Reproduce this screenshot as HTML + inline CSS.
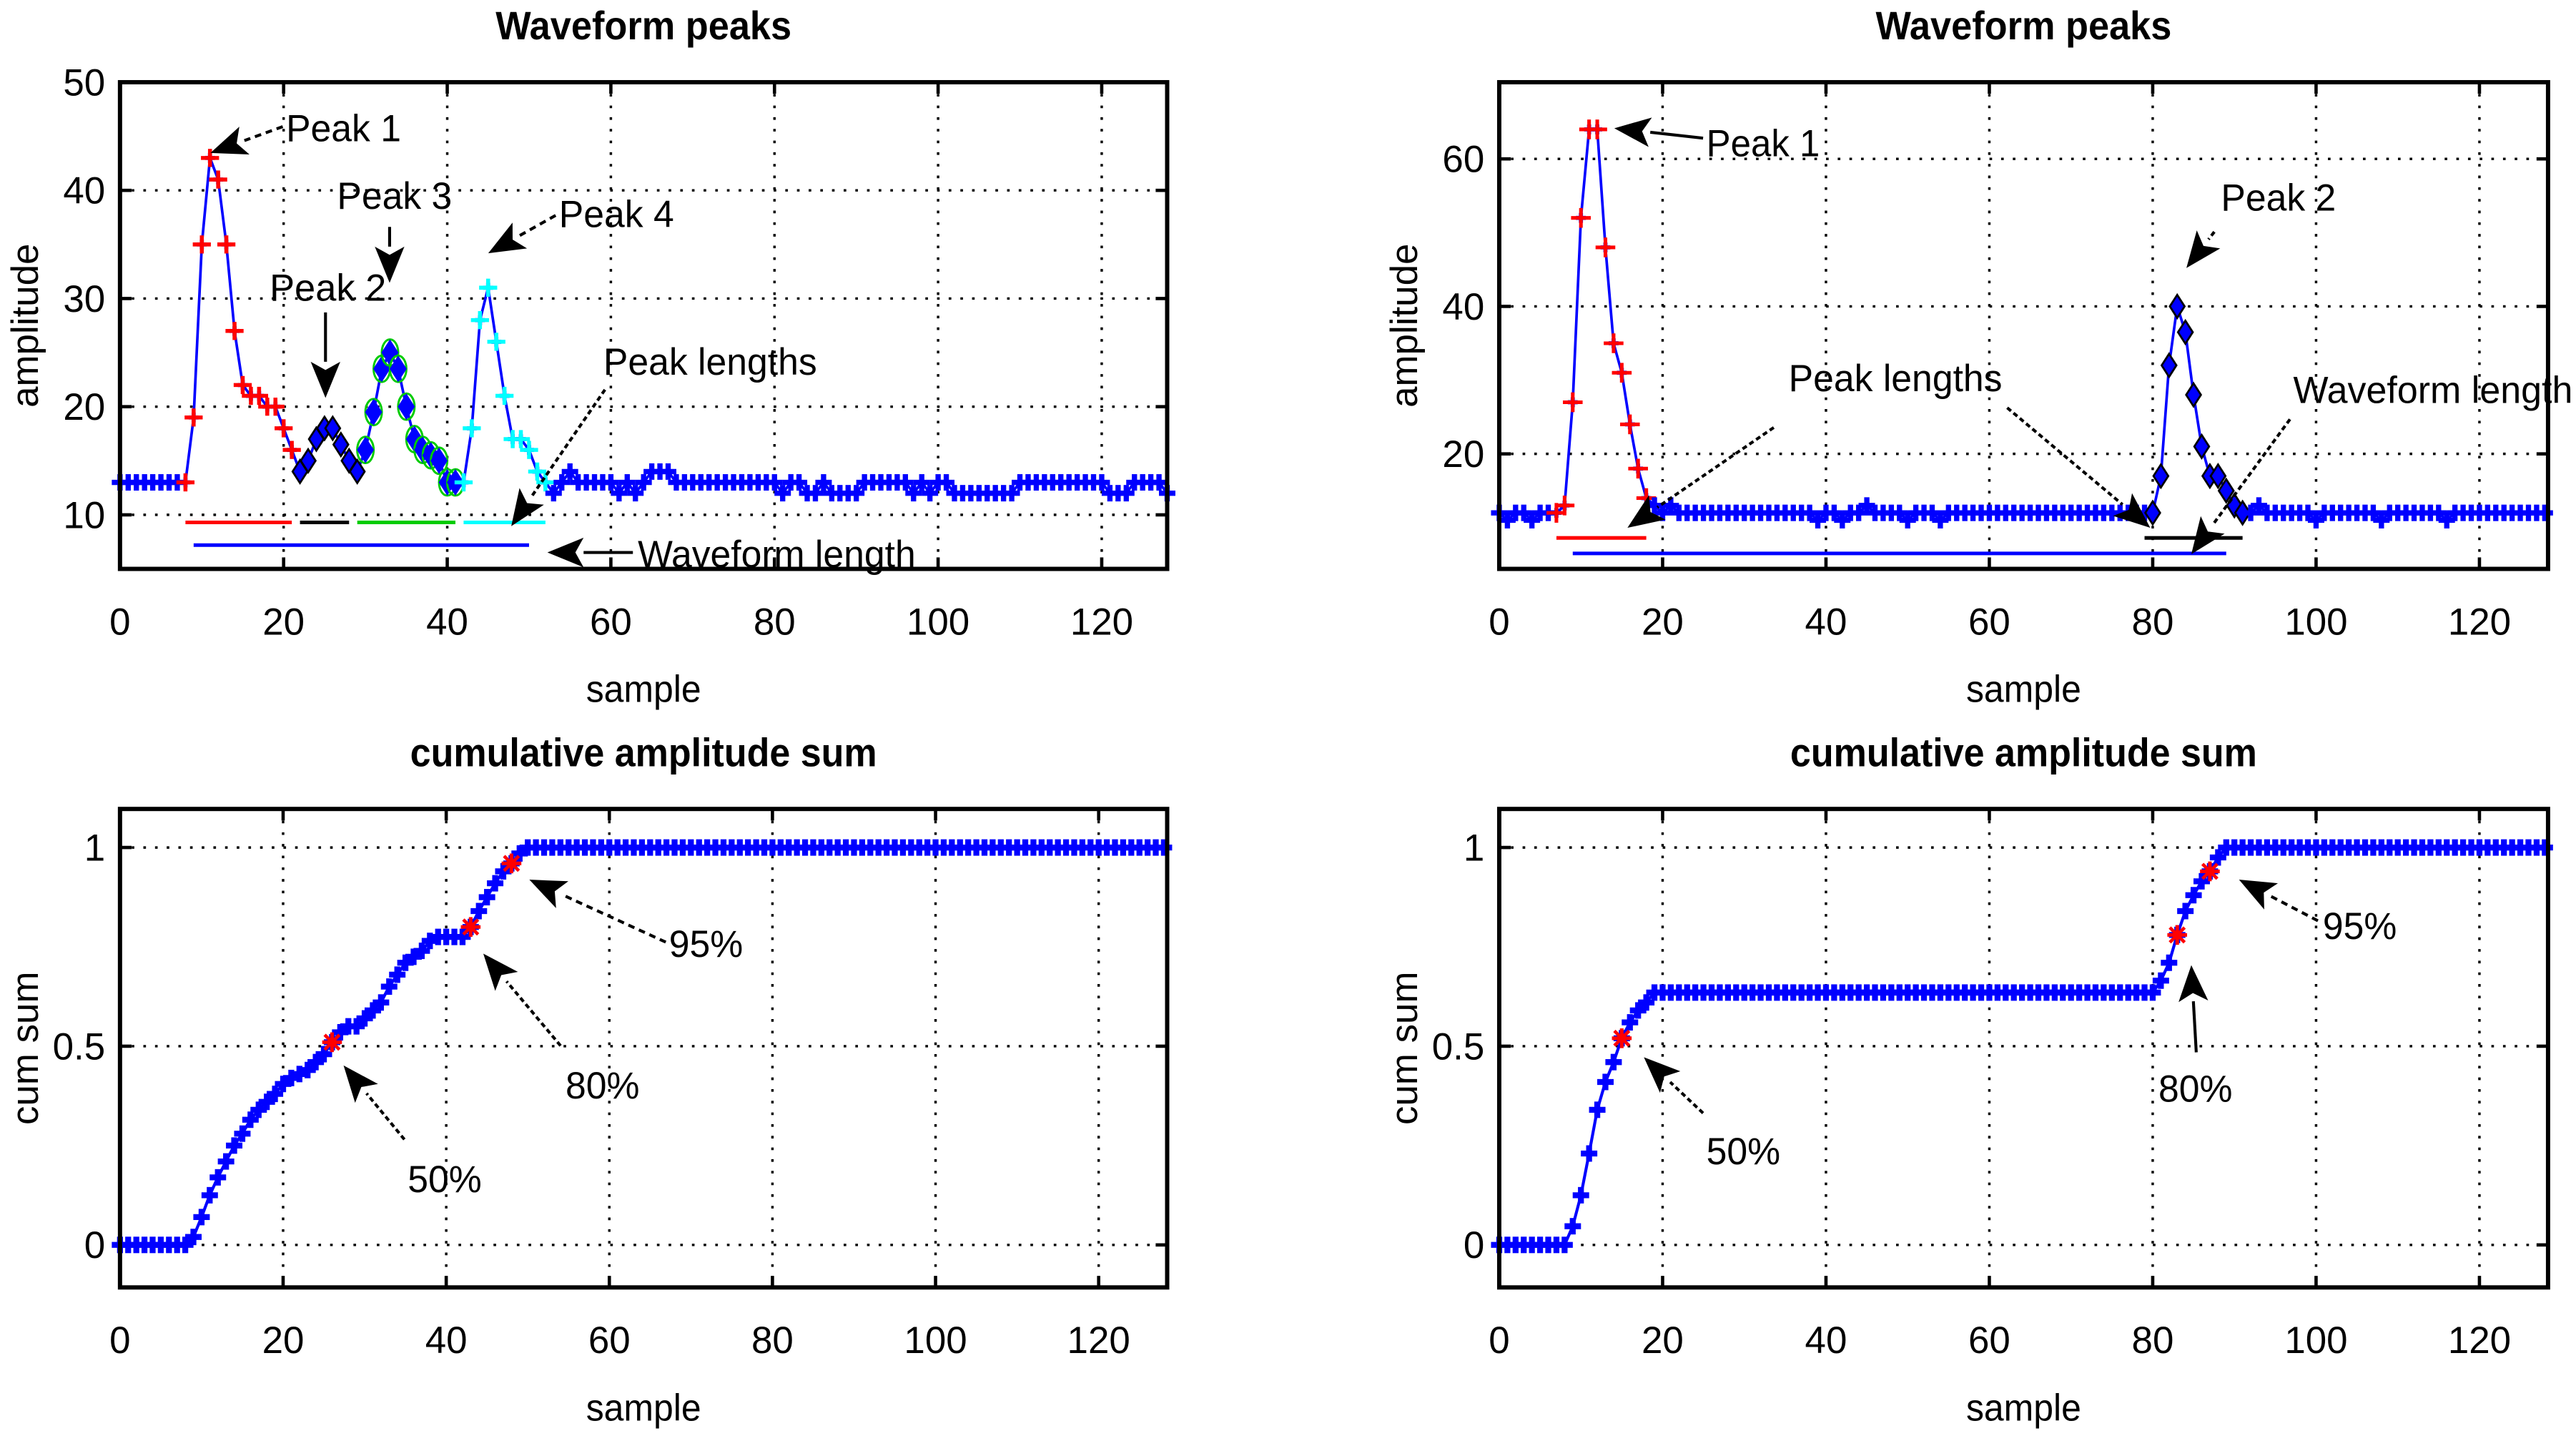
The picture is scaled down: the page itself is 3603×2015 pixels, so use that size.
<!DOCTYPE html>
<html><head><meta charset="utf-8"><style>
html,body{margin:0;padding:0;background:#fff;}
svg{display:block;}
text{font-family:"Liberation Sans",sans-serif;fill:#000;}
</style></head>
<body>
<svg id="fig" width="3603" height="2015" viewBox="0 0 1567 876.4" preserveAspectRatio="none" xmlns="http://www.w3.org/2000/svg">
<rect x="0" y="0" width="1567" height="876.4" fill="#fff"/>
</svg>
<script>
// ---------- DATA ----------
const xTicks = [0,20,40,60,80,100,120];
const tlYTicks = [10,20,30,40,50];
const trYTicks = [20,40,60];
const cumYTicks = [0,0.5,1];
const cumYLabels = ["0","0.5","1"];

// top-left waveform amplitudes, sample 0..128
const tlWave = [13,13,13,13,13,13,13,13,
 13,19,35,43,41,35,27,22,21,21,20,20,18,16,
 14,15,17,18,18,16.5,15,14,
 16,19.5,23.5,25,23.5,20,17,16,15.5,15,13,13,
 13,18,28,31,26,21,17,17,16,14,13,
 12,13,14,13,13,13,13,13,12,13,
 12,13,14,14,14,13,13,13,13,13,
 13,13,13,13,13,13,13,13,12,13,
 13,12,12,13,12,12,12,12,13,13,
 13,13,13,13,12,13,12,13,13,12,
 12,12,12,12,12,12,12,13,13,13,
 13,13,13,13,13,13,13,13,12,12,
 12,13,13,13,13,12];
const tlPeakStart = [8,22,30,42];
const tlPeakEnd = [21,29,41,52];
const tlBarStart = [8,22,29,42];
const tlBarEnd = [21,28,41,52];
const tlBarLevel = 9.3;
const tlWaveLen = [9,50];
const tlWaveLenLevel = 7.2;

// top-right waveform amplitudes, sample 0..128
const trWave = [12,11,12,12,11,12,12,
 12,13,27,52,64,64,48,35,31,24,18,14,
 13,12,13,12,12,12,12,12,12,12,
 12,12,12,12,12,12,12,12,12,12,
 11,12,12,11,12,12,13,12,12,12,
 12,11,12,12,12,11,12,12,12,12,
 12,12,12,12,12,12,12,12,12,12,
 12,12,12,12,12,12,12,12,12,12,12,
 12,17,32,40,36.5,28,21,17,17,15,13,12,
 12,13,12,12,12,12,12,12,11,12,
 12,12,12,12,12,12,11,12,12,12,
 12,12,12,12,11,12,12,12,12,12,
 12,12,12,12,12,12,12];
const trPeakStart = [7,80];
const trPeakEnd = [18,91];
const trBarStart = [7,79];
const trBarEnd = [18,91];
const trBarLevel = 8.6;
const trWaveLen = [9,89];
const trWaveLenLevel = 6.5;

// cumulative sums
const blCum = [0,0,0,0,0,0,0,0,0,
 0.02,0.07,0.125,0.17,0.21,0.25,0.28,0.315,0.34,0.36,
 0.38,0.405,0.42,0.43,0.44,0.46,0.48,0.51,0.535,0.55,
 0.55,0.57,0.59,0.61,0.65,0.68,0.71,0.725,0.74,0.765,
 0.775,0.775,0.775,0.775,0.80,0.84,0.875,0.91,0.94,0.96,0.985,1,
 1,1,1,1,1,1,1,1,1,1, 1,1,1,1,1,1,1,1,1,1, 1,1,1,1,1,1,1,1,1,1,
 1,1,1,1,1,1,1,1,1,1, 1,1,1,1,1,1,1,1,1,1, 1,1,1,1,1,1,1,1,1,1,
 1,1,1,1,1,1,1,1,1,1, 1,1,1,1,1,1,1,1];
const blPct = [26,43,48];
const brCum = [0,0,0,0,0,0,0,0,0,
 0.047,0.125,0.23,0.34,0.41,0.46,0.52,0.56,0.59,0.61,0.635,
 0.635,0.635,0.635,0.635,0.635,0.635,0.635,0.635,0.635,0.635,
 0.635,0.635,0.635,0.635,0.635,0.635,0.635,0.635,0.635,0.635,
 0.635,0.635,0.635,0.635,0.635,0.635,0.635,0.635,0.635,0.635,
 0.635,0.635,0.635,0.635,0.635,0.635,0.635,0.635,0.635,0.635,
 0.635,0.635,0.635,0.635,0.635,0.635,0.635,0.635,0.635,0.635,
 0.635,0.635,0.635,0.635,0.635,0.635,0.635,0.635,0.635,0.635,0.635,
 0.665,0.71,0.78,0.84,0.88,0.915,0.94,0.975,1,
 1,1,1,1,1,1,1,1,1,1, 1,1,1,1,1,1,1,1,1,1,
 1,1,1,1,1,1,1,1,1,1, 1,1,1,1,1,1,1,1,1];
const brPct = [15,83,87];

// ---------- DRAWING ----------
const NS = "http://www.w3.org/2000/svg";
const svg = document.getElementById('fig');
function mk(tag, attrs, parent){
  const e = document.createElementNS(NS, tag);
  for (const k in attrs) e.setAttribute(k, attrs[k]);
  (parent||svg).appendChild(e);
  return e;
}
function txt(s, x, y, size, parent, extra){
  const t = mk('text', Object.assign({x:x, y:y, 'font-size':size}, extra||{}), parent);
  t.textContent = s;
  return t;
}
function axis(box, xlim, ylim){
  return {
    x: v => box.x0 + (v - xlim[0]) / (xlim[1]-xlim[0]) * (box.x1-box.x0),
    y: v => box.y1 - (v - ylim[0]) / (ylim[1]-ylim[0]) * (box.y1-box.y0)
  };
}
function drawAxes(name, box, ax, yt, ylab, title, xlabel, ylabel, titleW){
  const g = mk('g', {});
  
  
  const grid = mk('g', {stroke:'#000','stroke-width':1.5,'stroke-dasharray':'1.6 5.5'}, g);
  
  
  xTicks.forEach(v => { const X = ax.x(v); mk('line',{x1:X,x2:X,y1:box.y0,y2:box.y1},grid); });
  yt.forEach(v => { const Y = ax.y(v); mk('line',{x1:box.x0,x2:box.x1,y1:Y,y2:Y},grid); });
  const tk = mk('g', {stroke:'#000','stroke-width':2}, g);
  xTicks.forEach(v => { const X = ax.x(v);
    mk('line',{x1:X,x2:X,y1:box.y1,y2:box.y1-7},tk); mk('line',{x1:X,x2:X,y1:box.y0,y2:box.y0+7},tk); });
  yt.forEach(v => { const Y = ax.y(v);
    mk('line',{x1:box.x0,x2:box.x0+7,y1:Y,y2:Y},tk); mk('line',{x1:box.x1,x2:box.x1-7,y1:Y,y2:Y},tk); });
  const xl = mk('g', {'text-anchor':'middle'}, g);
  
  
  xTicks.forEach(v => txt(String(v), ax.x(v), box.y1+40, 23, xl));
  const yl = mk('g', {'text-anchor':'end'}, g);
  
  
  yt.forEach((v,i) => txt(ylab[i], box.x0-9, ax.y(v)+8, 23, yl));
  const cx = (box.x0+box.x1)/2;
  const tt = txt(title, cx, box.y0-26, 24, g, {'text-anchor':'middle','font-weight':'bold',textLength:titleW,lengthAdjust:'spacingAndGlyphs'});
  
  
  const xt = txt(xlabel, cx, box.y1+81, 23, g, {'text-anchor':'middle',textLength:70,lengthAdjust:'spacingAndGlyphs'});
  
  
  const cy = (box.y0+box.y1)/2;
  const yx = box.x0 - 50;
  const ytt = txt(ylabel, yx, cy, 23, g, {'text-anchor':'middle',transform:'rotate(-90 '+yx+' '+cy+')'});
  
  
  return g;
}
function frame(g, box){
  mk('rect',{x:box.x0,y:box.y0,width:box.x1-box.x0,height:box.y1-box.y0,fill:'none',stroke:'#000','stroke-width':2.6},g);
}
function plus(g, X, Y, c, s, w){
  mk('line',{x1:X-s,x2:X+s,y1:Y,y2:Y,stroke:c,'stroke-width':w},g);
  mk('line',{x1:X,x2:X,y1:Y-s,y2:Y+s,stroke:c,'stroke-width':w},g);
}
function diamond(g, X, Y, fill, edge){
  mk('path',{d:`M${X} ${Y-7}L${X+4.5} ${Y}L${X} ${Y+7}L${X-4.5} ${Y}Z`,fill:fill,stroke:edge,'stroke-width':1.2},g);
}
function polyline(g, ax, vals, c, w){
  const pts = vals.map((v,i)=> ax.x(i).toFixed(2)+','+ax.y(v).toFixed(2)).join(' ');
  return mk('polyline',{points:pts,fill:'none',stroke:c,'stroke-width':w},g);
}
function arrow(g, tx, ty, fx, fy, dash){
  const dx = tx-fx, dy = ty-fy, L = Math.hypot(dx,dy), ux = dx/L, uy = dy/L;
  const hl = 22, hw = 9;
  const bx = tx-ux*hl, by = ty-uy*hl;
  mk('line',{x1:fx,y1:fy,x2:bx,y2:by,stroke:'#000','stroke-width':1.8,'stroke-dasharray':dash||'none'},g);
  mk('path',{d:`M${tx} ${ty}L${bx-uy*hw} ${by+ux*hw}L${bx+ux*5} ${by+uy*5}L${bx+uy*hw} ${by-ux*hw}Z`,fill:'#000'},g);
}
function label(g, s, x, y, w){
  return txt(s, x, y, 23, g, {textLength:w, lengthAdjust:'spacingAndGlyphs'});
}

// ===== Top-left =====
(function(){
  const box = {x0:73,x1:710,y0:50,y1:346};
  const ax = axis(box,[0,128],[5,50]);
  const g = drawAxes('waveform-peaks-left', box, ax, tlYTicks, tlYTicks.map(String), 'Waveform peaks', 'sample', 'amplitude', 180);
  const s = mk('g',{},g);
  
  
  polyline(s, ax, tlWave, '#00f', 1.6);
  const peakOf = i => { for (let k=0;k<tlPeakStart.length;k++) if (i>=tlPeakStart[k] && i<=tlPeakEnd[k]) return k; return -1; };
  tlWave.forEach((v,i)=>{
    const X = ax.x(i), Y = ax.y(v), k = peakOf(i);
    if (k===0) { plus(s,X,Y,'#00f',3,2.5); plus(s,X,Y,'#f00',5.5,2.4); }
    else if (k===1) diamond(s,X,Y,'#00f','#000');
    else if (k===2){ mk('ellipse',{cx:X,cy:Y,rx:5,ry:8,fill:'none',stroke:'#0c0','stroke-width':1.3},s); diamond(s,X,Y,'#00f','#00f'); }
    else if (k===3) { plus(s,X,Y,'#00f',3,2.5); plus(s,X,Y,'#0ff',5.5,2.4); }
    else plus(s,X,Y,'#00f',5,3.2);
  });
  const colors = ['#f00','#000','#0c0','#0ff'];
  const bars = mk('g',{},g);
  
  
  tlBarStart.forEach((st,k)=> mk('line',{x1:ax.x(st),x2:ax.x(tlBarEnd[k]),y1:ax.y(tlBarLevel),y2:ax.y(tlBarLevel),stroke:colors[k],'stroke-width':2.2},bars));
  const wl = mk('line',{x1:ax.x(tlWaveLen[0]),x2:ax.x(tlWaveLen[1]),y1:ax.y(tlWaveLenLevel),y2:ax.y(tlWaveLenLevel),stroke:'#00f','stroke-width':2.2},g);
  
  
  const an = mk('g',{},g);
  
  
  arrow(an,128,93,172,77,'4 3'); label(an,'Peak 1',174,86,70);
  arrow(an,237,172,237,138); label(an,'Peak 3',205,127,70);
  arrow(an,198,242,198,190); label(an,'Peak 2',164,183,71);
  arrow(an,297,154,338,131,'4 3'); label(an,'Peak 4',340,138,70);
  arrow(an,311,320,368,237,'3 2'); label(an,'Peak lengths',367,228,130);
  arrow(an,333,336,385,336); label(an,'Waveform length',388,345,169);
  frame(g, box);
})();

// ===== Top-right =====
(function(){
  const box = {x0:912,x1:1550,y0:50,y1:346};
  const ax = axis(box,[0,128.4],[4.4,70.4]);
  const g = drawAxes('waveform-peaks-right', box, ax, trYTicks, trYTicks.map(String), 'Waveform peaks', 'sample', 'amplitude', 180);
  const s = mk('g',{},g);
  
  
  polyline(s, ax, trWave, '#00f', 1.6);
  trWave.forEach((v,i)=>{
    const X = ax.x(i), Y = ax.y(v);
    if (i>=trPeakStart[0] && i<=trPeakEnd[0]) { plus(s,X,Y,'#00f',3,2.5); plus(s,X,Y,'#f00',6,2.2); }
    else if (i>=trPeakStart[1] && i<=trPeakEnd[1]) diamond(s,X,Y,'#00f','#000');
    else plus(s,X,Y,'#00f',5,3.2);
  });
  const colors = ['#f00','#000'];
  const bars = mk('g',{},g);
  
  
  trBarStart.forEach((st,k)=> mk('line',{x1:ax.x(st),x2:ax.x(trBarEnd[k]),y1:ax.y(trBarLevel),y2:ax.y(trBarLevel),stroke:colors[k],'stroke-width':2.2},bars));
  const wl = mk('line',{x1:ax.x(trWaveLen[0]),x2:ax.x(trWaveLen[1]),y1:ax.y(trWaveLenLevel),y2:ax.y(trWaveLenLevel),stroke:'#00f','stroke-width':2.2},g);
  
  
  const an = mk('g',{},g);
  
  
  arrow(an,982,78,1036,84); label(an,'Peak 1',1038,95,69);
  arrow(an,1330,163,1347,141,'3 2'); label(an,'Peak 2',1351,128,70);
  arrow(an,990,321,1079,260,'3 2'); arrow(an,1308,321,1221,248,'3 2');
  label(an,'Peak lengths',1088,238,130);
  arrow(an,1333,337,1393,255,'3 2'); label(an,'Waveform length',1395,245,170);
  frame(g, box);
})();

// ===== Bottom panels =====
function cumPanel(name, box, vals, pct, notes){
  const ax = axis(box,[0,128.4],[-0.107,1.097]);
  const g = drawAxes(name, box, ax, cumYTicks, cumYLabels, 'cumulative amplitude sum', 'sample', 'cum sum', 284);
  const s = mk('g',{},g);
  
  
  polyline(s, ax, vals, '#00f', 1.8);
  vals.forEach((v,i)=> plus(s, ax.x(i), ax.y(v), '#00f', 5, 3.6));
  const pm = mk('g',{},g);
  
  
  pct.forEach(i=>{
    const X = ax.x(i), Y = ax.y(vals[i]);
    plus(pm,X,Y,'#f00',6,2.2);
    mk('line',{x1:X-4.5,x2:X+4.5,y1:Y-4.5,y2:Y+4.5,stroke:'#f00','stroke-width':2},pm);
    mk('line',{x1:X-4.5,x2:X+4.5,y1:Y+4.5,y2:Y-4.5,stroke:'#f00','stroke-width':2},pm);
  });
  const an = mk('g',{},g);
  
  
  notes(an);
  frame(g, box);
}
cumPanel('cumsum-left', {x0:73,x1:710,y0:492,y1:783}, blCum, blPct, an=>{
  arrow(an,209,648,246,693,'3 2'); label(an,'50%',248,725,45);
  arrow(an,294,580,341,636,'3 2'); label(an,'80%',344,668,45);
  arrow(an,322,535,405,573,'4 3'); label(an,'95%',407,582,45);
});
cumPanel('cumsum-right', {x0:912,x1:1550,y0:492,y1:783}, brCum, brPct, an=>{
  arrow(an,1000,643,1036,677,'3 2'); label(an,'50%',1038,708,45);
  arrow(an,1333,587,1336,640); label(an,'80%',1313,670,45);
  arrow(an,1362,535,1410,560,'4 3'); label(an,'95%',1413,571,45);
});
</script>
</body></html>
